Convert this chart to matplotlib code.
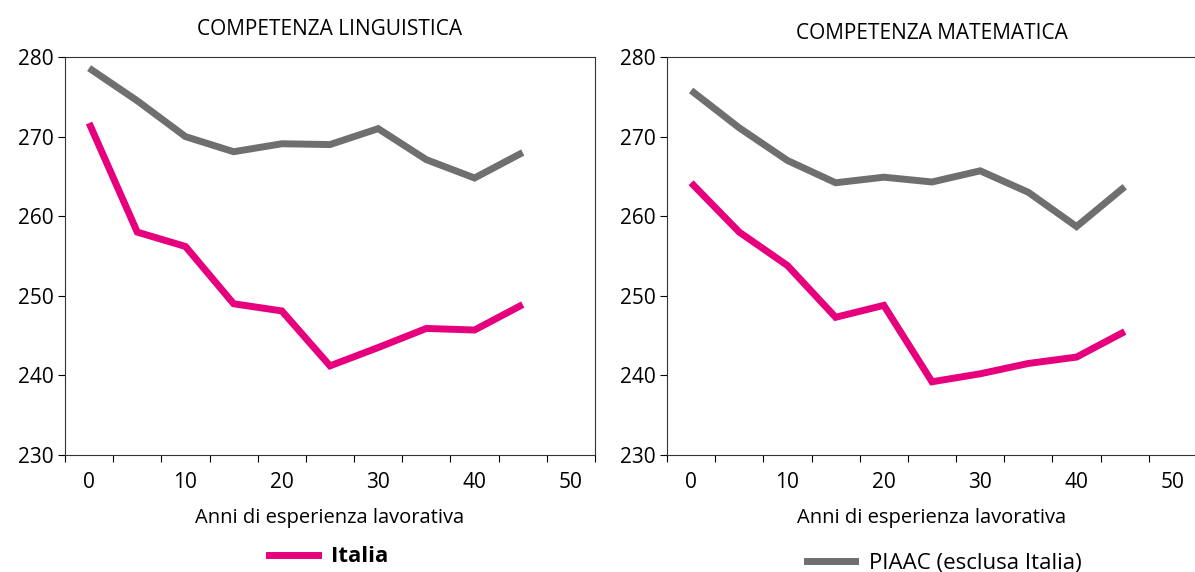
import matplotlib.pyplot as plt
import numpy as np
from matplotlib.lines import Line2D

anni = [0, 5, 10, 15, 20, 25, 30, 35, 40, 45]
ling_italia = [271.7, 258.0, 256.2, 249.0, 248.1, 241.2, 243.5, 245.9, 245.7, 248.9]
ling_piaac = [278.6, 274.5, 270.0, 268.1, 269.1, 269.0, 271.0, 267.1, 264.8, 268.0]
mat_italia = [264.2, 258.0, 253.8, 247.3, 248.8, 239.2, 240.2, 241.5, 242.3, 245.5]
mat_piaac = [275.8, 271.1, 267.0, 264.2, 264.9, 264.3, 265.7, 263.0, 258.7, 263.7]
titoli = ['COMPETENZA LINGUISTICA', 'COMPETENZA MATEMATICA']
xtick_labels = [0, 10, 20, 30, 40, 50]

PINK = '#e6007e'
GREY = '#6f6f6f'
plt.rcParams['font.family'] = ['Open Sans', 'DejaVu Sans']

fig = plt.figure(figsize=(11.95, 5.72), dpi=100)
ax1 = fig.add_axes([65/1195, 117/572, 530/1195, 398/572])
ax2 = fig.add_axes([667/1195, 117/572, 530/1195, 398/572])

for ax, it, pi, tit, tpad in [(ax1, ling_italia, ling_piaac, titoli[0], 16),
                              (ax2, mat_italia, mat_piaac, titoli[1], 13)]:
    ax.plot(anni, pi, color=GREY, lw=5, solid_joinstyle='miter', solid_capstyle='butt')
    ax.plot(anni, it, color=PINK, lw=5, solid_joinstyle='miter', solid_capstyle='butt')
    ax.set_xlim(-2.5, 52.5)
    ax.set_ylim(230, 280)
    ax.set_yticks(np.arange(230, 281, 10))
    # tick marks between categories, labels without marks
    ax.set_xticks(np.arange(-2.5, 53, 5))
    ax.set_xticklabels([])
    ax.set_xticks(xtick_labels, minor=True)
    ax.set_xticklabels([str(v) for v in xtick_labels], minor=True)
    ax.tick_params(axis='x', which='minor', length=0, pad=12, labelsize=15)
    ax.tick_params(axis='x', which='major', direction='out', length=5, width=0.8)
    ax.tick_params(axis='y', direction='out', length=5, width=0.8, labelsize=15, pad=3)
    for s in ax.spines.values():
        s.set_linewidth(0.8)
        s.set_color('#333333')
    ax.set_xlabel('Anni di esperienza lavorativa', fontsize=14.5, labelpad=11)
    ax.set_title(tit, fontsize=15, pad=tpad)

fig.legend(handles=[Line2D([], [], color=PINK, lw=5)], labels=['Italia'],
           loc='center', bbox_to_anchor=(329/1195, 1 - 557/572), frameon=False,
           prop={'weight': 'bold', 'size': 16}, handlelength=2.2, handletextpad=0.6)
fig.legend(handles=[Line2D([], [], color=GREY, lw=5)], labels=['PIAAC (esclusa Italia)'],
           loc='center', bbox_to_anchor=(944/1195, 1 - 563/572), frameon=False,
           prop={'size': 16}, handlelength=2.2, handletextpad=0.6)

fig.savefig('out.png', dpi=100)
